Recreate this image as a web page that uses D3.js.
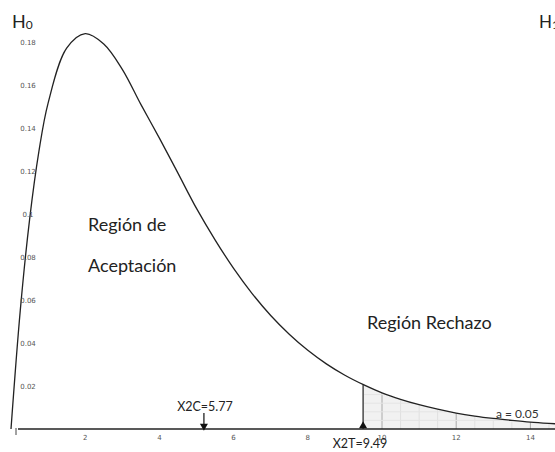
<!DOCTYPE html>
<html>
<head>
<meta charset="utf-8">
<script src="https://cdn.jsdelivr.net/npm/d3@7"></script>
<style>
  body { margin: 0; background: #fff; }
  svg { display: block; }
  .big { font-family: Lato, "Open Sans", sans-serif; fill: #222; }
  .tick { font-family: "DejaVu Sans", sans-serif; font-size: 7px; fill: #555; }
</style>
</head>
<body>
<script>
// chi-square density (4 gl)
const xs = [0, 0.25, 0.5, 0.75, 1, 1.5, 2, 2.5, 3, 3.5, 4, 4.5, 5, 5.5, 6, 6.5, 7, 7.5, 8, 8.5,
  9, 9.5, 10, 10.5, 11, 11.5, 12, 12.5, 13, 13.5, 14, 14.5, 15]
const dens = [0, 0.0552, 0.0973, 0.1289, 0.1516, 0.1771, 0.1839, 0.1791, 0.1673, 0.151, 0.1353,
  0.119, 0.1026, 0.088, 0.0747, 0.063, 0.0528, 0.0441, 0.0366, 0.0303, 0.025, 0.0206, 0.0168,
  0.0138, 0.0113, 0.0092, 0.0074, 0.006, 0.0049, 0.004, 0.0032, 0.0026, 0.0021]

const xTicks = [2, 4, 6, 8, 10, 12, 14]
const yTicks = [0.02, 0.04, 0.06, 0.08, 0.1, 0.12, 0.14, 0.16, 0.18]

const x2c = { label: 'X2C=5.77', pos: 5.2 }
const x2t = { label: 'X2T=9.49', pos: 9.49 }
const alphaLabel = 'a = 0.05'

const W = 555, H = 452

const svg = d3.select('body').append('svg')
  .attr('width', W)
  .attr('height', H)

const x = d3.scaleLinear().domain([0, 15]).range([11, 11 + 15 * 37.1])
const y = d3.scaleLinear().domain([0, 0.18]).range([429, 42])

const pts = xs.map((v, i) => ({ x: v, y: dens[i] }))

// shaded rejection area
const tail = pts.filter(d => d.x > x2t.pos)
const tailStart = { x: x2t.pos, y: d3.interpolateNumber(0.025, 0.0206)((x2t.pos - 9) / 0.5) }
const tailPts = [tailStart, ...tail]

svg.append('clipPath').attr('id', 'tailclip')
  .append('path')
  .attr('d', d3.area().x(d => x(d.x)).y0(y(0)).y1(d => y(d.y)).curve(d3.curveCatmullRom)(tailPts))

const shade = svg.append('g').attr('clip-path', 'url(#tailclip)')
shade.append('rect')
  .attr('x', x(x2t.pos)).attr('y', y(0.03))
  .attr('width', W - x(x2t.pos)).attr('height', y(0) - y(0.03))
  .attr('fill', '#f1f1f1')

shade.selectAll('line.minor')
  .data(d3.range(9.5, 15, 0.5))
  .join('line')
  .attr('x1', d => x(d)).attr('x2', d => x(d))
  .attr('y1', y(0.03)).attr('y2', y(0))
  .attr('stroke', d => d % 2 === 0 ? '#aaa' : '#e0e0e0')
  .attr('stroke-width', 1)

shade.selectAll('line.h')
  .data(d3.range(0.004, 0.03, 0.004))
  .join('line')
  .attr('x1', x(x2t.pos)).attr('x2', W)
  .attr('y1', d => y(d)).attr('y2', d => y(d))
  .attr('stroke', '#e4e4e4')

// curve
svg.append('path')
  .datum(pts)
  .attr('d', d3.line().x(d => x(d.x)).y(d => y(d.y)).curve(d3.curveCatmullRom))
  .attr('fill', 'none')
  .attr('stroke', '#222')
  .attr('stroke-width', 1.3)

// x axis line
svg.append('line')
  .attr('x1', 18).attr('x2', W)
  .attr('y1', y(0)).attr('y2', y(0))
  .attr('stroke', '#222').attr('stroke-width', 1.3)

svg.append('line')
  .attr('x1', 16).attr('x2', 16)
  .attr('y1', y(0) - 1).attr('y2', y(0) + 6)
  .attr('stroke', '#444')

// critical value line
svg.append('line')
  .attr('x1', x(x2t.pos)).attr('x2', x(x2t.pos))
  .attr('y1', y(0)).attr('y2', y(tailStart.y))
  .attr('stroke', '#222').attr('stroke-width', 1.2)

// tick labels
svg.selectAll('text.xt')
  .data(xTicks)
  .join('text')
  .attr('class', 'tick')
  .attr('x', d => x(d))
  .attr('y', 440)
  .attr('text-anchor', 'middle')
  .text(d => d)

svg.selectAll('text.yt')
  .data(yTicks)
  .join('text')
  .attr('class', 'tick')
  .attr('x', 28)
  .attr('y', d => y(d) + 2.5)
  .attr('text-anchor', 'middle')
  .text(d => d)

// markers
const sym = d3.symbol().type(d3.symbolTriangle).size(28)
svg.append('path')
  .attr('d', sym())
  .attr('transform', `translate(${x(x2t.pos)},${y(0) - 3})`)
  .attr('fill', '#111')

svg.append('line')
  .attr('x1', x(x2c.pos)).attr('x2', x(x2c.pos))
  .attr('y1', 413).attr('y2', 424)
  .attr('stroke', '#111').attr('stroke-width', 1.2)
svg.append('path')
  .attr('d', sym())
  .attr('transform', `translate(${x(x2c.pos)},${y(0) - 3}) rotate(180)`)
  .attr('fill', '#111')

svg.append('text').attr('class', 'big')
  .attr('x', 205).attr('y', 411)
  .attr('text-anchor', 'middle')
  .style('font-size', '12.5px')
  .text(x2c.label)

svg.append('text').attr('class', 'big')
  .attr('x', 360).attr('y', 448)
  .attr('text-anchor', 'middle')
  .style('font-size', '12.5px')
  .text(x2t.label)

svg.append('text').attr('class', 'big')
  .attr('x', 496).attr('y', 418)
  .style('font-size', '12px')
  .style('fill', '#333')
  .text(alphaLabel)

// region labels
const reg = [
  { t: 'Región de', x: 88, y: 231 },
  { t: 'Aceptación', x: 88, y: 272 },
  { t: 'Región Rechazo', x: 367, y: 329 },
]
svg.selectAll('text.reg')
  .data(reg)
  .join('text')
  .attr('class', 'big')
  .attr('x', d => d.x).attr('y', d => d.y)
  .style('font-size', '18px')
  .text(d => d.t)

// hypotheses
const h0 = svg.append('text').attr('class', 'big').attr('x', 12).attr('y', 28).style('font-size', '18px')
h0.append('tspan').text('H')
h0.append('tspan').attr('dy', 1).style('font-size', '12px').text('0')

const h1 = svg.append('text').attr('class', 'big').attr('x', 539).attr('y', 28).style('font-size', '17px')
h1.append('tspan').text('H')
h1.append('tspan').attr('dy', 1).style('font-size', '12px').text('1')
</script>
</body>
</html>
